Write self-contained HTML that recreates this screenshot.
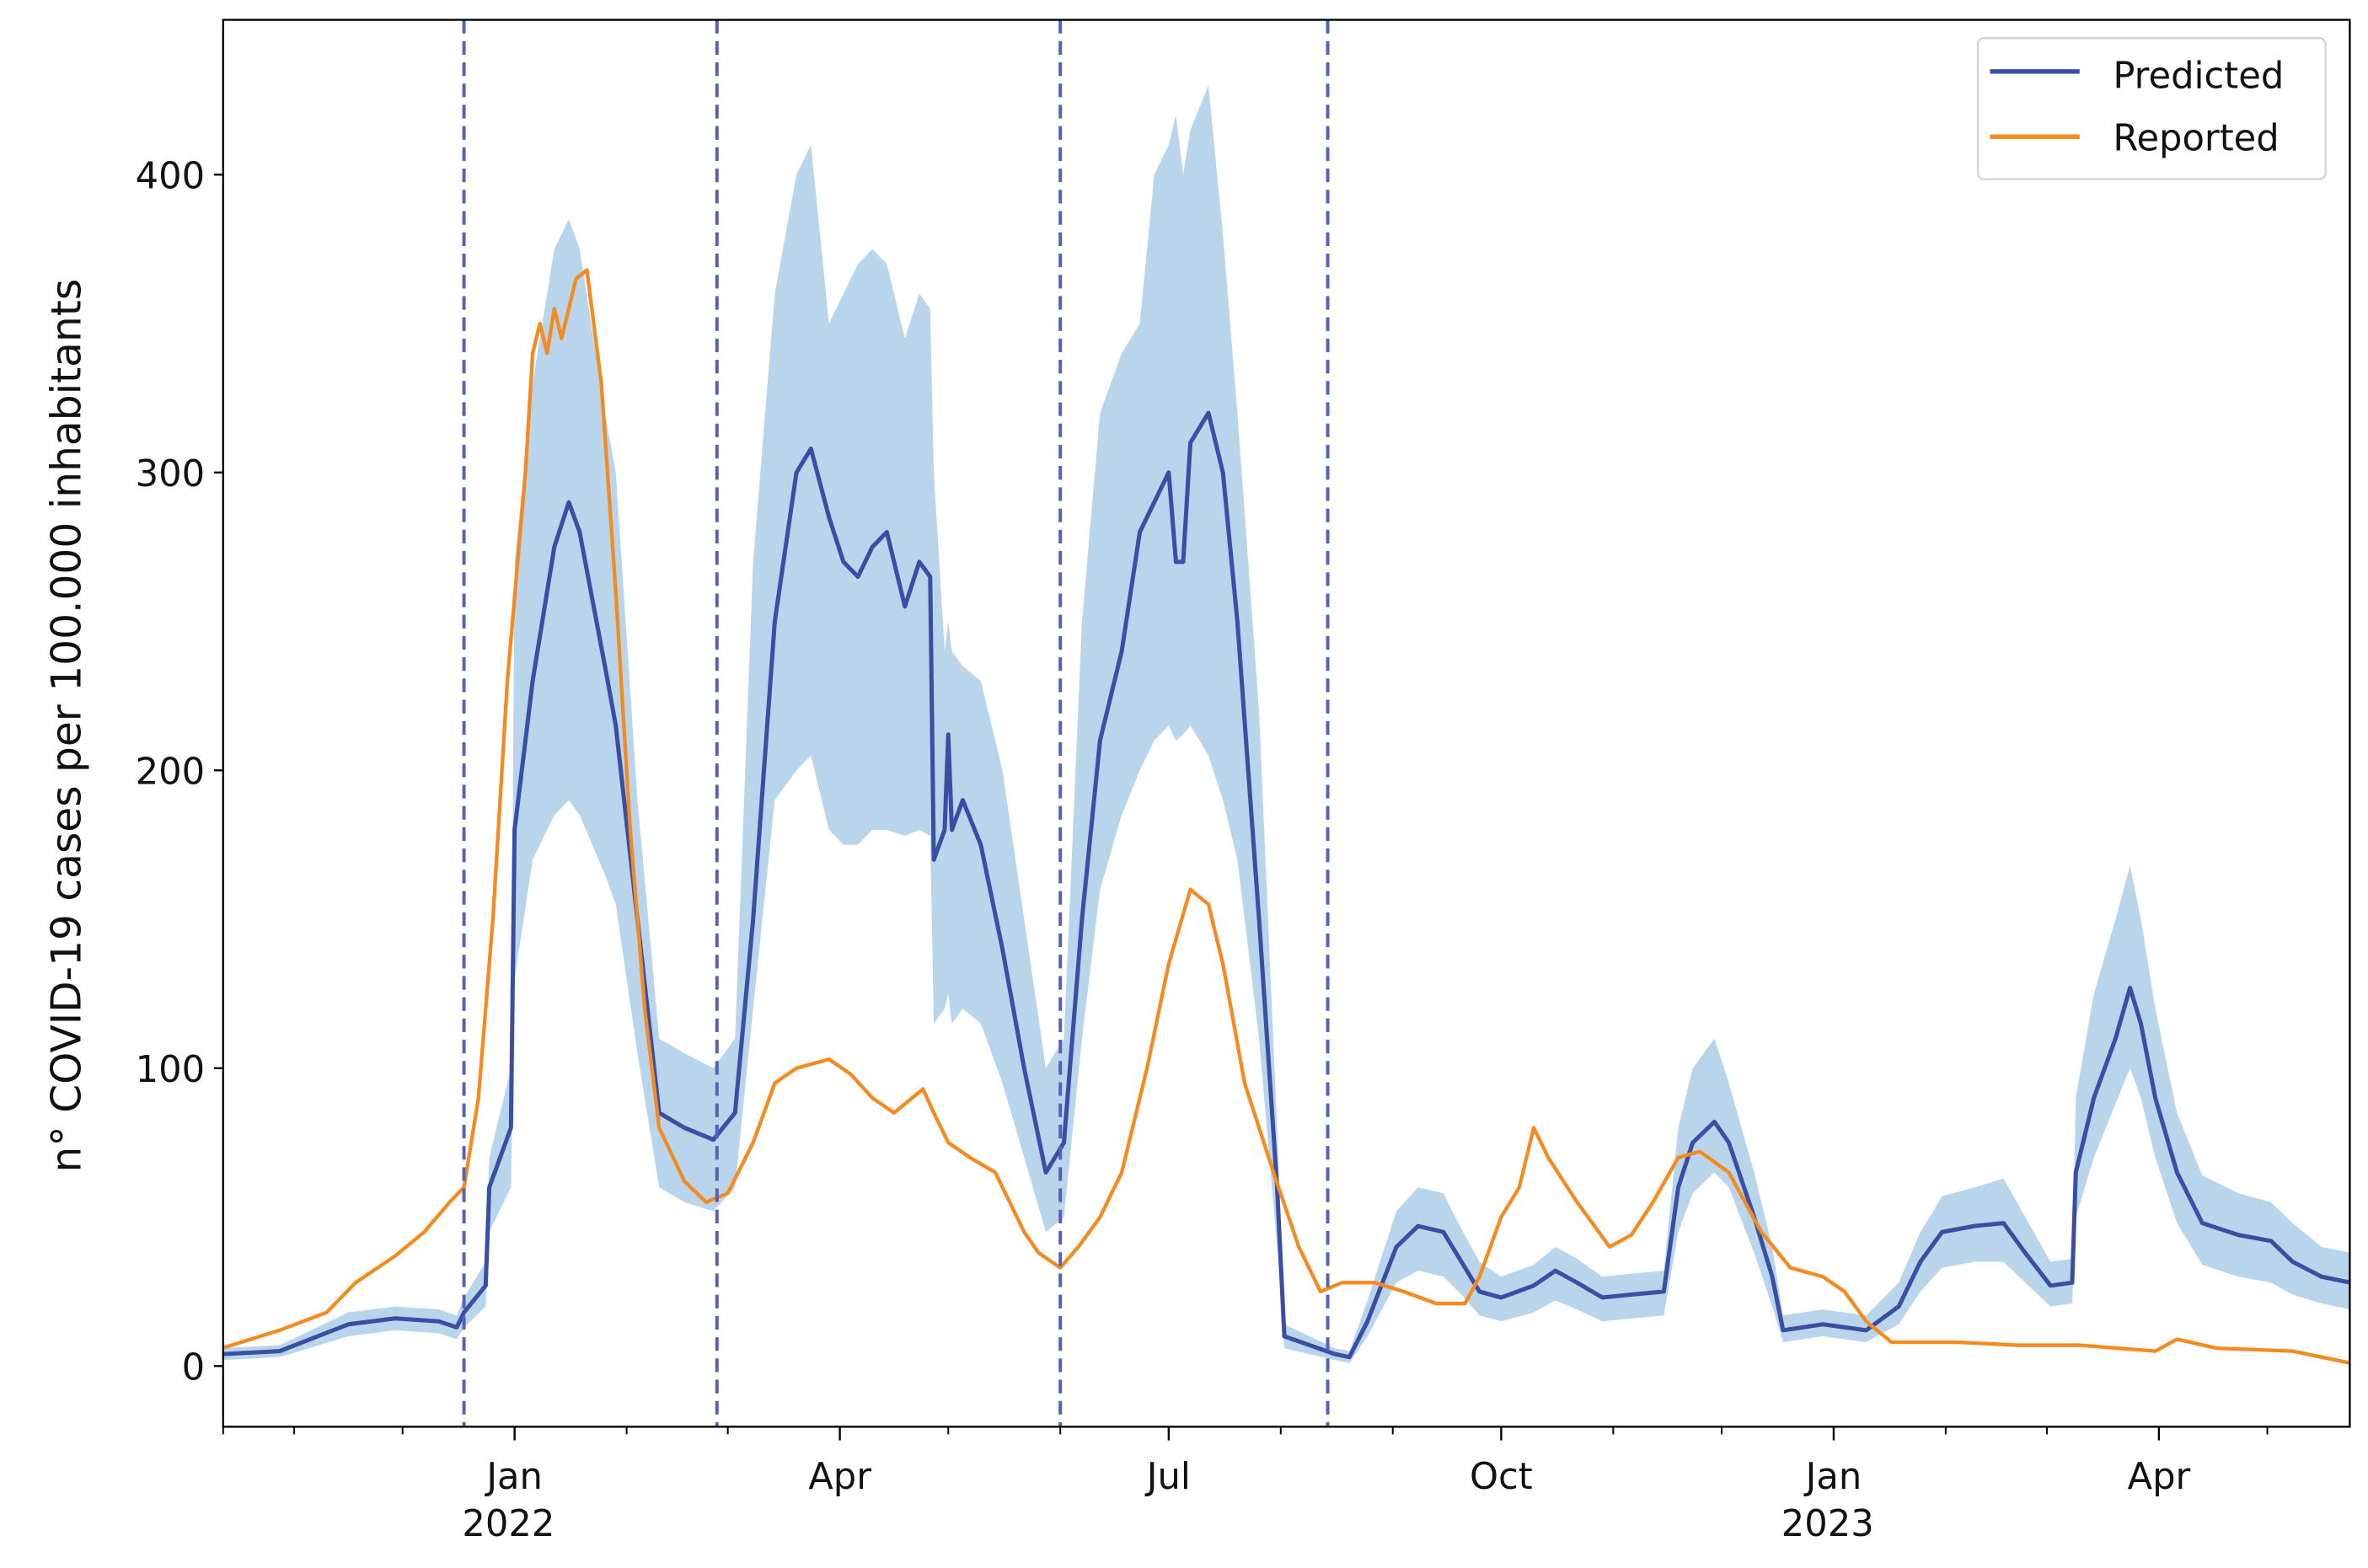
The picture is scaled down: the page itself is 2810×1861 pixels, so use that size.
<!DOCTYPE html>
<html><head><meta charset="utf-8"><style>
html,body{margin:0;padding:0;background:#fff}
svg{display:block;font-family:"DejaVu Sans","Liberation Sans",sans-serif}
</style></head><body>
<svg id="chart" width="2810" height="1861" viewBox="0 0 1560 1033" xmlns="http://www.w3.org/2000/svg">
<g id="plot"></g>
</svg>
<script>
// days relative to 2022-01-01
const predDays=[-81,-65,-46,-33,-21,-16,-14,-8,-7,-1,0,5,11,15,18,25,28,34,40,47,55,61,66,72,78,82,87,91,95,99,103,108,112,115,116,119,120,121,124,129,135,141,147,152,157,162,168,173,177,181,183,185,187,192,196,200,206,211,213,227,231,236,244,250,257,262,267,273,282,288,294,301,309,318,322,326,332,336,343,348,351,362,374,383,389,395,404,412,418,425,431,432,437,443,447,450,454,460,467,477,486,492,500,508];
const predVals=[4,5,14,16,15,13,18,27,60,80,180,230,275,290,280,235,215,150,85,80,76,85,150,250,300,308,285,270,265,275,280,255,270,265,170,180,212,180,190,175,140,100,65,75,150,210,240,280,290,300,270,270,310,320,300,250,150,60,10,4,3,15,40,47,45,35,25,23,27,32,28,23,24,25,60,75,82,75,50,30,12,14,12,20,35,45,47,48,38,27,28,65,90,110,127,115,90,65,48,44,42,35,30,28];
const bandLow=[2,3,10,12,11,9,13,20,45,60,130,170,185,190,185,165,155,105,60,55,52,60,120,190,200,205,180,175,175,180,180,178,180,178,115,120,125,115,120,115,95,70,45,50,110,160,185,200,210,215,210,212,215,205,190,170,110,40,6,2,1,10,28,32,30,24,17,15,18,22,19,15,16,17,45,58,65,60,38,20,8,10,8,14,25,33,35,35,28,20,21,50,70,88,100,90,70,48,34,30,28,24,21,19];
const bandHigh=[6,7,18,20,19,17,23,35,70,100,270,330,375,385,375,320,300,190,110,105,100,110,270,360,400,410,350,360,370,375,370,345,360,355,300,240,250,240,235,230,200,150,100,110,250,320,340,350,400,410,420,400,415,430,380,320,220,80,14,6,5,22,52,60,58,46,35,30,34,40,36,30,31,32,80,100,110,95,65,40,17,19,17,28,45,57,60,63,50,35,36,90,125,150,168,150,120,85,64,58,55,48,40,38];
const repDays=[-81,-65,-52,-44,-33,-25,-18,-14,-10,-6,-2,3,5,7,9,11,13,17,20,24,28,32,36,40,47,53,59,66,72,78,87,93,99,105,110,113,116,120,126,133,137,141,145,151,156,162,168,175,181,187,192,196,202,210,217,223,229,238,246,255,263,267,273,278,282,286,294,303,309,315,322,328,336,345,353,362,368,374,381,399,416,433,454,460,471,492,508];
const repVals=[6,12,18,28,37,45,55,60,90,150,230,300,340,350,340,355,345,365,368,330,260,180,120,80,62,55,58,75,95,100,103,98,90,85,90,93,85,75,70,65,55,45,38,33,40,50,65,100,135,160,155,135,95,65,40,25,28,28,25,21,21,30,50,60,80,70,55,40,44,55,70,72,65,45,33,30,25,15,8,8,7,7,5,9,6,5,1];
const splitDays=[-14,56,151,225];
const yTicks=[0,100,200,300,400];
const monthTicks=[-92,-61,-31,0,31,59,90,120,151,181,212,243,273,304,334,365,396,424,455,485];
const majorLabels=[[0,"Jan","2022"],[90,"Apr",""],[181,"Jul",""],[273,"Oct",""],[365,"Jan","2023"],[455,"Apr",""]];

const L=147,R=1548,T=13,B=940;
const x=d=>339+d*2.3808;
const y=v=>900-v*1.9625;
const NS="http://www.w3.org/2000/svg";
const g=document.getElementById('plot');
function mk(tag,attrs,parent){const e=document.createElementNS(NS,tag);for(const k in attrs)e.setAttribute(k,attrs[k]);(parent||g).appendChild(e);return e;}
const clip=mk('clipPath',{id:'c'});mk('rect',{x:L,y:T,width:R-L,height:B-T},clip);
const pg=mk('g',{'clip-path':'url(#c)'});
let d='M'+predDays.map((t,i)=>x(t)+','+y(bandHigh[i])).join('L');
for(let i=predDays.length-1;i>=0;i--)d+='L'+x(predDays[i])+','+y(bandLow[i]);
const band=mk('path',{d:d+'Z',fill:'#b8d5eb',stroke:'none'},pg);


const pl=mk('path',{d:'M'+predDays.map((t,i)=>x(t)+','+y(predVals[i])).join('L'),fill:'none',stroke:'#3a4fa4','stroke-width':2.8,'stroke-linejoin':'round'},pg);


const rl=mk('path',{d:'M'+repDays.map((t,i)=>x(t)+','+y(repVals[i])).join('L'),fill:'none',stroke:'#f58a1f','stroke-width':2.4,'stroke-linejoin':'round'},pg);


splitDays.forEach(s=>{const l=mk('line',{x1:x(s),x2:x(s),y1:T,y2:B,stroke:'#5560b8','stroke-width':2.2,'stroke-dasharray':'9,5'},pg);

});
const fr=mk('rect',{x:L,y:T,width:R-L,height:B-T,fill:'none',stroke:'#000','stroke-width':1.3});


yTicks.forEach(v=>{mk('line',{x1:L-6,x2:L,y1:y(v),y2:y(v),stroke:'#000','stroke-width':1.3});
const t=mk('text',{x:L-12,y:y(v)+9,'text-anchor':'end','font-size':24,fill:'#111'});t.textContent=v;

});
monthTicks.forEach(m=>{const xx=x(m);if(xx<L-1||xx>R+1)return;mk('line',{x1:xx,x2:xx,y1:B,y2:B+5,stroke:'#000','stroke-width':1.1});});
mk('line',{x1:L,x2:L,y1:B,y2:B+5,stroke:'#000','stroke-width':1.1});
majorLabels.forEach(([m,a,b])=>{const xx=x(m);mk('line',{x1:xx,x2:xx,y1:B,y2:B+9,stroke:'#000','stroke-width':1.3});
const t=mk('text',{x:xx,y:B+41,'text-anchor':'middle','font-size':24,fill:'#111'});t.textContent=a;


if(b){const t2=mk('text',{x:xx-4,y:B+72,'text-anchor':'middle','font-size':24,fill:'#111'});t2.textContent=b;

}});
const yt=mk('text',{transform:'translate(53,478) rotate(-90)','text-anchor':'middle','font-size':27,fill:'#111'});
yt.textContent='n° COVID-19 cases per 100.000 inhabitants';


const lg=mk('g',{});


mk('rect',{x:1303,y:25,width:229,height:93,rx:4,fill:'#fff',stroke:'#d4d4d4','stroke-width':1.3},lg);
mk('line',{x1:1311,x2:1370,y1:47,y2:47,stroke:'#3a4fa4','stroke-width':3},lg);
mk('line',{x1:1311,x2:1370,y1:90,y2:90,stroke:'#f58a1f','stroke-width':3},lg);
const t1=mk('text',{x:1392,y:58,'font-size':24,fill:'#111'},lg);t1.textContent='Predicted';


const t2=mk('text',{x:1392,y:99,'font-size':24,fill:'#111'},lg);t2.textContent='Reported';


</script>
</body></html>
